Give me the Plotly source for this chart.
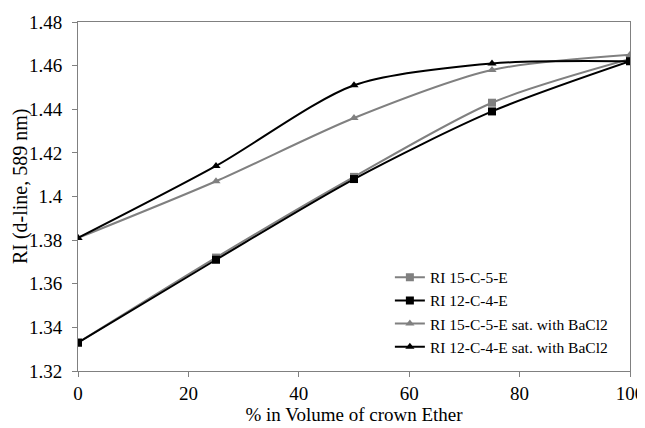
import plotly.graph_objects as go

volume_pct = [0, 25, 50, 75, 100]
ri_15c5e = [1.333, 1.372, 1.409, 1.443, 1.463]
ri_12c4e = [1.333, 1.371, 1.408, 1.439, 1.462]
ri_15c5e_ba = [1.381, 1.407, 1.436, 1.458, 1.465]
ri_12c4e_ba = [1.381, 1.414, 1.451, 1.461, 1.462]
y_ticks = [1.32, 1.34, 1.36, 1.38, 1.40, 1.42, 1.44, 1.46, 1.48]
y_tick_text = ["1.32", "1.34", "1.36", "1.38", "1.4", "1.42", "1.44", "1.46", "1.48"]

series = [
    ("RI 15-C-5-E", ri_15c5e, "#808080", "square"),
    ("RI 12-C-4-E", ri_12c4e, "#000000", "square"),
    ("RI 15-C-5-E sat. with BaCl2", ri_15c5e_ba, "#808080", "triangle-up"),
    ("RI 12-C-4-E sat. with BaCl2", ri_12c4e_ba, "#000000", "triangle-up"),
]

fig = go.Figure()
for name, ys, col, sym in series:
    fig.add_trace(go.Scatter(
        x=volume_pct, y=ys, name=name, mode="lines+markers",
        line=dict(color=col, width=2, shape="spline", smoothing=0.8),
        marker=dict(color=col, symbol=sym, size=8),
    ))

font = "Liberation Serif, Times New Roman, serif"
tf = dict(family=font, size=19, color="black")
# the page body adds an 8px offset, so the figure is sized/margined to compensate
fig.update_layout(
    width=637, height=420,
    margin=dict(l=70, r=15, t=14, b=57),
    paper_bgcolor="white", plot_bgcolor="white",
    font=dict(family=font, size=19, color="black"),
    showlegend=True,
    legend=dict(x=0.565, y=0.316, xanchor="left", yanchor="top",
                font=dict(family=font, size=15.5, color="black"),
                bgcolor="rgba(0,0,0,0)", tracegroupgap=0),
    xaxis=dict(range=[0, 100], dtick=20, showgrid=False, zeroline=False,
               showline=True, linecolor="#808080", linewidth=1, mirror=True,
               ticks="outside", ticklen=5, tickcolor="#808080", tickfont=tf,
               ticklabelstandoff=0, automargin=False,
               title=dict(text="% in Volume of crown Ether", standoff=0,
                          font=dict(family=font, size=19, color="black"))),
    yaxis=dict(range=[1.32, 1.48], showgrid=False, zeroline=False,
               showline=True, linecolor="#808080", linewidth=1, mirror=True,
               ticks="outside", ticklen=5, tickcolor="#808080", tickfont=tf,
               ticklabelstandoff=6,
               tickvals=y_ticks, ticktext=y_tick_text, automargin=False),
    annotations=[dict(text="RI (d-line, 589 nm)", textangle=-90,
                      xref="paper", yref="paper", x=-0.105, y=0.53,
                      xanchor="center", yanchor="middle", showarrow=False,
                      font=dict(family=font, size=20, color="black"))],
)

fig.write_html("out.html")
